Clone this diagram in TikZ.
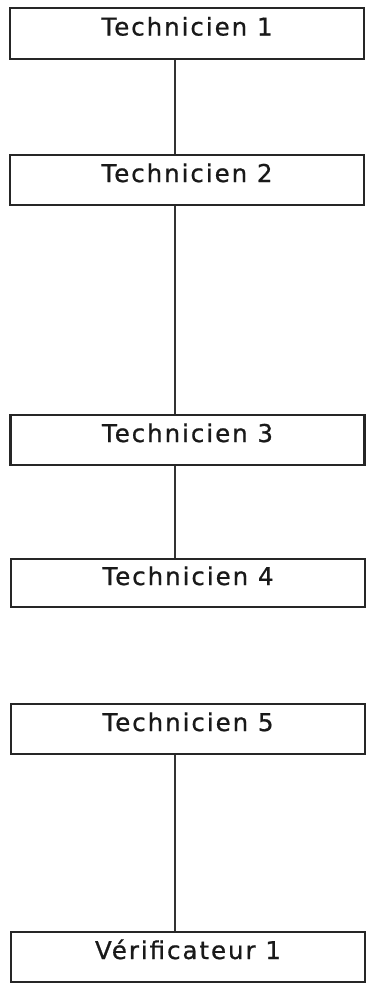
\documentclass[tikz,border=0pt]{standalone}
\usepackage{fontspec}
\setmainfont{DejaVu Sans}[LetterSpace=8, FakeBold=0.8]
\begin{document}
\begin{tikzpicture}[x=1pt,y=-1pt,
  box/.style={draw=black!85, line width=2.2pt, rectangle, inner sep=0pt,
    minimum width=354pt, minimum height=50pt,
    text height=20pt, text depth=16pt,
    font=\fontsize{24.5}{28}\selectfont, text=black!90},
  link/.style={draw=black!80, line width=1.4pt}]
\useasboundingbox (0,0) rectangle (367,985);
\node[box, minimum height=51pt] (t1) at (187,33.5) {Technicien 1};
\node[box] (t2) at (187,180) {Technicien 2};
\node[box] (t3) at (187.5,440) {Technicien 3};
\node[box, minimum height=48pt] (t4) at (188,583) {Technicien 4};
\node[box] (t5) at (188,729) {Technicien 5};
\node[box] (v1) at (188,957) {Vérificateur 1};
\draw[link] ([xshift=-12pt]t1.south) -- ([xshift=-12pt]t2.north);
\draw[link] ([xshift=-12pt]t2.south) -- ([xshift=-12.5pt]t3.north);
\draw[link] ([xshift=-12.5pt]t3.south) -- ([xshift=-13pt]t4.north);
\draw[link] ([xshift=-13pt]t5.south) -- ([xshift=-13pt]v1.north);
\end{tikzpicture}
\end{document}
